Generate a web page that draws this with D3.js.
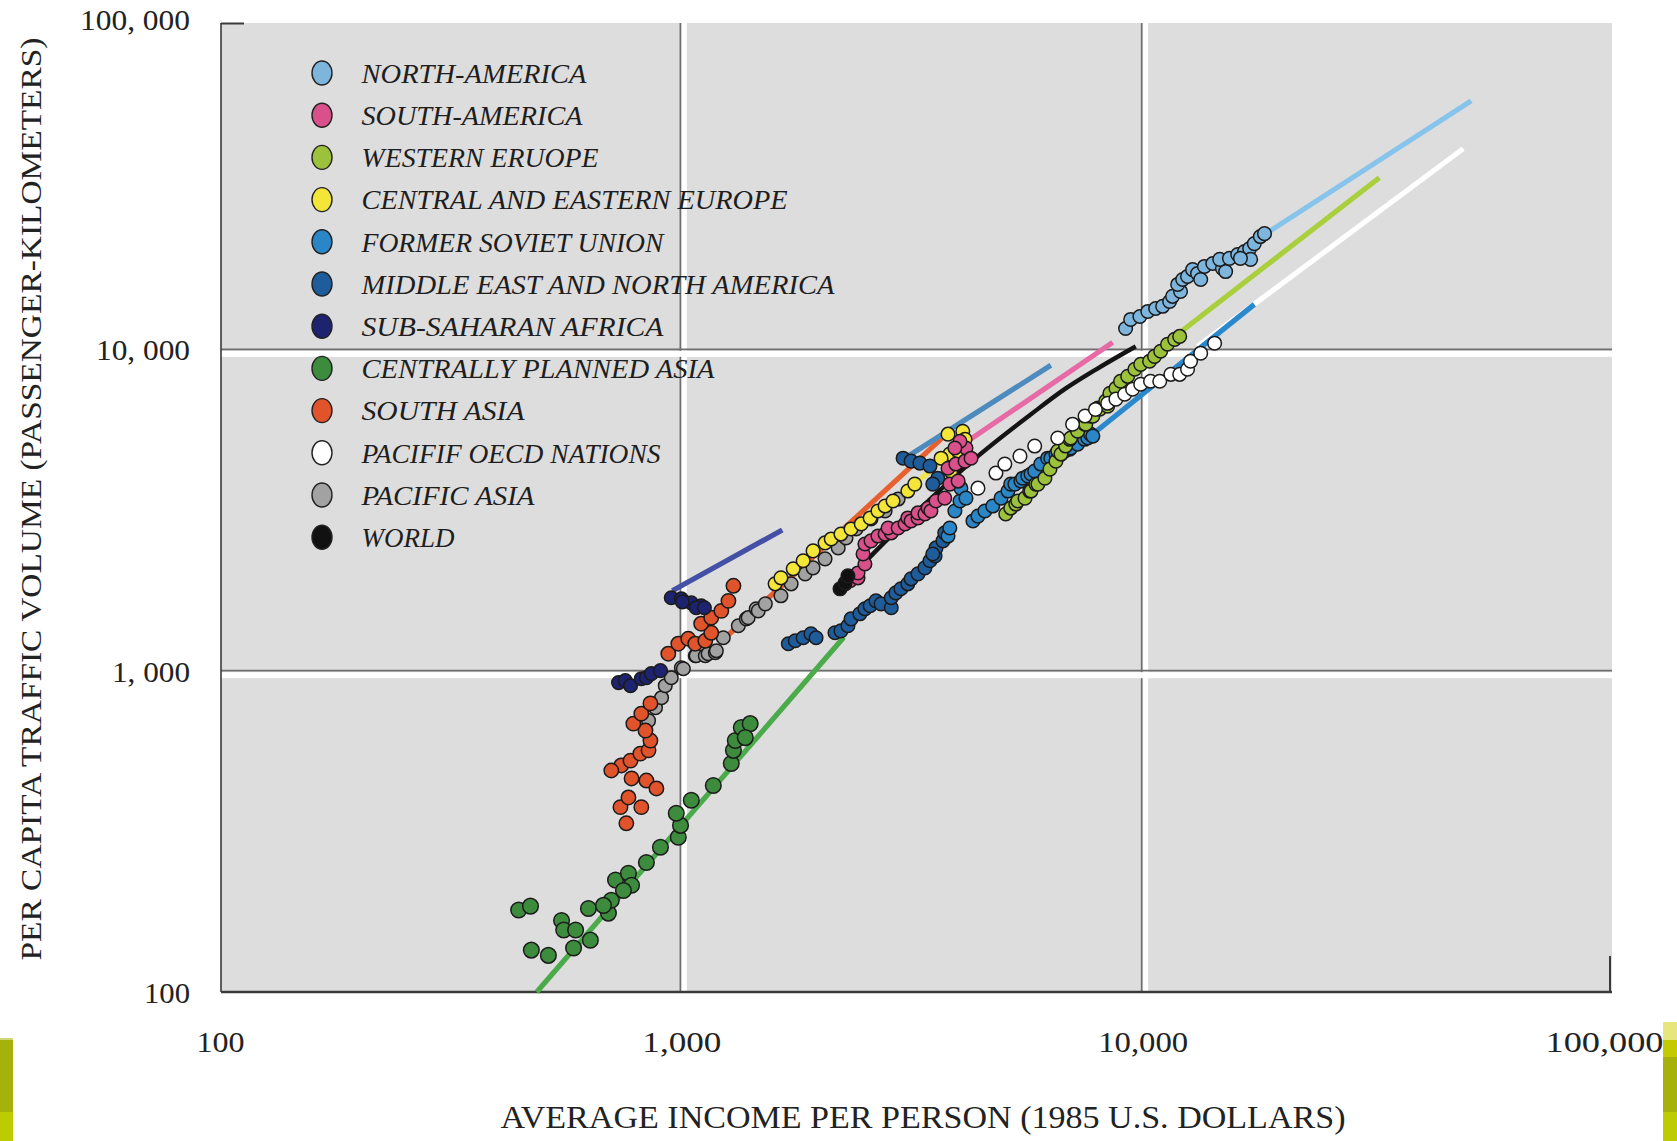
<!DOCTYPE html>
<html>
<head>
<meta charset="utf-8">
<script src="https://cdn.jsdelivr.net/npm/d3@7"></script>
<style>
  html, body { margin: 0; padding: 0; background: #ffffff; }
  svg { display: block; }
</style>
</head>
<body>
<svg id="chart" width="1677" height="1141"></svg>
<script>
// ---------------------------------------------------------------
// Data: per-capita traffic volume (passenger-km) vs. income (1985 US$)
// ---------------------------------------------------------------
const regionNames = [
  "NORTH-AMERICA", "SOUTH-AMERICA", "WESTERN ERUOPE", "CENTRAL AND EASTERN EUROPE",
  "FORMER SOVIET UNION", "MIDDLE EAST AND NORTH AMERICA", "SUB-SAHARAN AFRICA",
  "CENTRALLY PLANNED ASIA", "SOUTH ASIA", "PACIFIF OECD NATIONS", "PACIFIC ASIA", "WORLD"
];

const xTickValues = [100, 1000, 10000, 100000];
const xTickLabels = ["100", "1,000", "10,000", "100,000"];
const yTickValues = [100, 1000, 10000, 100000];
const yTickLabels = ["100", "1, 000", "10, 000", "100, 000"];
const xTitle = "AVERAGE INCOME PER PERSON (1985 U.S. DOLLARS)";
const yTitle = "PER CAPITA TRAFFIC VOLUME (PASSENGER-KILOMETERS)";

// observed [income, traffic] pairs
const northAmerica = [[9183,11610],[9419,12390],[9863,12650],[10260,13120],[10670,13400],[11050,13610],
  [11440,14090],[11610,14620],[12080,15140],[11910,15920],[12210,16490],[12510,16860],[12830,17700],
  [13150,17220],[13360,16490],[13610,18110],[14190,18500],[14890,17860],[15130,17460],[14690,19050],
  [15420,19190],[16070,19730],[16630,20160],[17060,20590],[17460,21330],[17990,22440],[18370,22910],
  [17140,19050],[16290,19190]];
const southAmerica = [[2265,1863],[2322,1905],[2415,1945],[2415,2014],[2500,2148],[2477,2307],[2500,2478],
  [2577,2535],[2668,2624],[2765,2661],[2851,2685],[2806,2780],[2951,2780],[3055,2862],[3097,2987],
  [3148,2924],[3258,2987],[3258,3097],[3373,3073],[3428,3206],[3475,3140],[3565,3373],[3724,3443],
  [3819,3807],[3981,3890],[3785,4266],[3936,4395],[4121,4487],[4140,4932],[4018,5176],[4246,4584],[3917,4932]];
const westernEurope = [[5049,3073],[5176,3206],[5309,3300],[5361,3373],[5559,3443],[5690,3622],[5728,3622],
  [5868,3807],[5929,3807],[6138,3972],[6295,4238],[6486,4487],[6546,4823],[6652,4721],[6808,5000],
  [6950,5248],[6982,5297],[7228,5559],[7482,5848],[7530,5848],[7709,6194],[7798,6194],[7998,6561],
  [8072,6516],[8318,6902],[8397,6653],[8492,7295],[8750,7568],[8954,7955],[9280,8241],[9616,8670],
  [9903,8980],[10350,9183],[10610,9509],[10940,9863],[11320,10370],[11730,10740],[12030,10970]];
const centralEasternEurope = [[1597,1863],[1644,1945],[1748,2075],[1837,2198],[1930,2359],[2049,2498],
  [2113,2570],[2218,2661],[2333,2761],[2455,2862],[2566,2987],[2668,3140],[2765,3253],[2877,3373],
  [3097,3622],[3206,3807],[3785,5445],[4074,5559],[3819,4721],[3981,4823],[3837,4178],[3656,4584],[4121,5248]];
const formerSovietUnion = [[3785,2624],[3819,2780],[3917,3140],[4018,3373],[4036,3698],[4140,3443],
  [4287,2924],[4395,3027],[4550,3140],[4732,3253],[4932,3443],[5105,3622],[5176,3807],[5284,3807],
  [5445,3890],[5495,3972],[5636,4036],[5728,4093],[5834,4178],[6012,4395],[6223,4584],[6324,4584],
  [6486,4721],[6652,4721],[6776,4823],[6950,4887],[6982,4932],[7228,5070],[7482,5248],[7603,5297],
  [7709,5445],[7798,5370]];
const middleEast = [[1706,1213],[1766,1239],[1837,1266],[1910,1303],[1959,1266],[2153,1312],[2218,1330],
  [2297,1380],[2333,1449],[2438,1503],[2500,1558],[2566,1592],[2642,1649],[2710,1614],[2851,1570],
  [2851,1686],[2917,1746],[2992,1799],[3097,1863],[3148,1931],[3258,2001],[3373,2089],[3459,2198],
  [3548,2276],[3565,2410],[3690,2535],[3724,2685],[3508,2307],[3025,4584],[3148,4487],[3289,4426],
  [3459,4333],[3597,3972],[3508,3807]];
const subSaharanAfrica = [[731,918],[756,931],[776,898],[819,944],[840,951],[861,979],[901,1000],
  [951,1686],[1000,1674],[1051,1626],[1104,1592],[1077,1570],[1122,1570],[1005,1637]];
const centrallyPlannedAsia = [[444,180],[471,185],[473,135],[515,130],[550,167],[556,156],[590,156],
  [584,137],[635,145],[629,182],[695,176],[705,193],[720,223],[768,234],[780,215],[840,253],[901,282],
  [985,303],[996,330],[975,360],[1051,395],[1173,439],[1283,514],[1297,565],[1309,606],[1349,665],
  [1410,684],[1376,619],[749,207],[678,186]];
const southAsia = [[760,335],[738,376],[768,403],[819,376],[840,455],[883,430],[780,462],[741,507],
  [705,489],[776,525],[815,552],[849,565],[857,606],[836,651],[787,684],[819,735],[857,791],[937,1129],
  [985,1213],[1035,1257],[1072,1213],[1127,1239],[1161,1312],[1104,1400],[1161,1462],[1221,1535],
  [1265,1649],[1297,1837]];
const pacificOECD = [[4395,3698],[4808,4121],[5026,4395],[5420,4652],[5834,5000],[6546,5297],[7048,5848],
  [7500,6200],[7900,6500],[8397,6792],[8750,6998],[9141,7247],[9509,7516],[9903,7786],[10400,7955],
  [10890,7955],[11510,8360],[12030,8360],[12510,8670],[12700,9183],[13360,9727],[14320,10450]];
const pacificAsia = [[849,699],[879,767],[906,824],[923,898],[951,951],[1000,1021],[1010,1014],
  [1072,1113],[1077,1113],[1127,1113],[1143,1129],[1185,1137],[1191,1153],[1233,1266],[1329,1380],
  [1383,1449],[1396,1462],[1453,1558],[1468,1535],[1521,1614],[1644,1710],[1730,1863],[1855,2001],
  [1930,2089],[2049,2228],[2188,2410],[2275,2588],[2392,2761],[2577,2965],[2765,3140],[2951,3420]];
const world = [[2208,1798],[2265,1876],[2297,1972]];

// projected trajectories [income, traffic]
const northAmericaLine = [[18370,22760],[51520,59300]];
const southAmericaLine = [[3700,4600],[8610,10510]];
const westernEuropeLine = [[11910,11140],[32580,34200]];
const centralEasternEuropeLine = [[3100,3650],[3600,4400]];
const formerSovietUnionLine = [[7800,5450],[17460,13800]];
const middleEastLine = [[3100,4650],[6324,8920]];
const subSaharanAfricaLine = [[956,1772],[1655,2741]];
const centrallyPlannedAsiaLine = [[486,100],[2250,1270]];
const southAsiaLine = [[1245,1266],[3673,5292]];
const pacificOECDLine = [[13150,10210],[49510,42100]];
const worldLine = [[2208,1798],[2668,2393],[3428,3373],[4395,4652],[5728,6281],[6776,7516],[7998,8730],[9660,10210]];

// ---------------------------------------------------------------
// Series styling (legend order)
// ---------------------------------------------------------------
const fills = ["#7db5dd","#d9508b","#9cc23c","#f3e638","#2a86c6","#1f5c9b","#1d236e","#3d8b3d","#e0532b","#ffffff","#a2a2a2","#111111"];
const lineColors = ["#86c4ec","#e76aa6","#a9cf3d","#f4e64a","#2a88cc","#4d8abd","#4450a6","#4bab4b","#e8602f","#ffffff",null,"#141414"];
const pointSets = [northAmerica, southAmerica, westernEurope, centralEasternEurope, formerSovietUnion,
  middleEast, subSaharanAfrica, centrallyPlannedAsia, southAsia, pacificOECD, pacificAsia, world];
const lineSets = [northAmericaLine, southAmericaLine, westernEuropeLine, centralEasternEuropeLine,
  formerSovietUnionLine, middleEastLine, subSaharanAfricaLine, centrallyPlannedAsiaLine, southAsiaLine,
  pacificOECDLine, null, worldLine];
const legendTextWidths = [225, 221, 237, 426, 302, 473, 302, 353, 163, 299, 173, 93];

const series = regionNames.map((name, i) => ({
  name, points: pointSets[i], line: lineSets[i], fill: fills[i], lineColor: lineColors[i]
}));

// ---------------------------------------------------------------
// Layout
// ---------------------------------------------------------------
const svg = d3.select("#chart");
const plot = { left: 221, right: 1612, top: 23, bottom: 992 };

const x = d3.scaleLog().domain([100, 100000]).range([220, 1604]);
const y = d3.scaleLog().domain([100, 100000]).range([992, 28]);

// plot background
svg.append("rect")
  .attr("x", plot.left).attr("y", plot.top)
  .attr("width", plot.right - plot.left).attr("height", plot.bottom - plot.top)
  .attr("fill", "#dddddd");

// embossed grid lines: dark rule with a white band beside it
const grid = svg.append("g");
[1000, 10000].forEach(v => {
  const gx = x(v);
  grid.append("rect").attr("x", gx + 0.5).attr("y", plot.top).attr("width", 5)
    .attr("height", plot.bottom - plot.top).attr("fill", "#ffffff");
  grid.append("line").attr("x1", gx - 1).attr("x2", gx - 1)
    .attr("y1", plot.top).attr("y2", plot.bottom)
    .attr("stroke", "#6e6e6e").attr("stroke-width", 1.6);
});
[1000, 10000].forEach(v => {
  const gy = y(v);
  grid.append("rect").attr("x", plot.left).attr("y", gy + 1.5).attr("width", plot.right - plot.left + 2)
    .attr("height", 6).attr("fill", "#ffffff");
  grid.append("line").attr("x1", plot.left).attr("x2", plot.right)
    .attr("y1", gy).attr("y2", gy)
    .attr("stroke", "#6e6e6e").attr("stroke-width", 1.6);
});

// axis frame
const frame = svg.append("g").attr("stroke", "#3a3a3a").attr("fill", "none");
frame.append("line").attr("x1", plot.left).attr("x2", plot.left)
  .attr("y1", plot.top).attr("y2", plot.bottom).attr("stroke-width", 1.6);
frame.append("line").attr("x1", plot.left).attr("x2", plot.right)
  .attr("y1", plot.bottom).attr("y2", plot.bottom).attr("stroke-width", 2.6);
frame.append("line").attr("x1", plot.left).attr("x2", plot.left + 23)
  .attr("y1", plot.top + 0.5).attr("y2", plot.top + 0.5).attr("stroke-width", 2);
frame.append("line").attr("x1", plot.right - 2).attr("x2", plot.right - 2)
  .attr("y1", plot.bottom - 36).attr("y2", plot.bottom).attr("stroke-width", 2);

// trajectory lines
const lineGen = d3.line().x(d => x(d[0])).y(d => y(d[1])).curve(d3.curveMonotoneX);
const lineOrder = [7, 6, 8, 3, 5, 1, 11, 2, 9, 4, 0];
const lines = svg.append("g").attr("fill", "none").attr("stroke-linecap", "butt");
lineOrder.forEach(i => {
  const s = series[i];
  if (!s.line) return;
  lines.append("path").datum(s.line)
    .attr("d", lineGen)
    .attr("stroke", s.lineColor)
    .attr("stroke-width", i === 11 ? 4.4 : 5.2);
});

// observed points
const pointOrder = [10, 3, 8, 6, 7, 5, 4, 1, 11, 2, 9, 0];
const dots = svg.append("g");
pointOrder.forEach(i => {
  const s = series[i];
  dots.append("g").selectAll("circle").data(s.points).join("circle")
    .attr("cx", d => x(d[0]))
    .attr("cy", d => y(d[1]))
    .attr("r", i === 7 ? 7.8 : (i === 8 ? 7.2 : 6.8))
    .attr("fill", s.fill)
    .attr("stroke", "#1b1b1b")
    .attr("stroke-width", 1.5);
});

// axes (labels only)
const tickFont = "'Liberation Serif', 'DejaVu Serif', serif";
const xTickWidths = { 100: 48, 1000: 79, 10000: 90, 100000: 118 };
const yTickWidths = { 100: 46, 1000: 78, 10000: 94, 100000: 110 };

const xAxis = svg.append("g").attr("transform", `translate(0,${plot.bottom})`)
  .call(d3.axisBottom(x).tickValues(xTickValues)
    .tickFormat(d => xTickLabels[xTickValues.indexOf(d)]).tickSize(0));
xAxis.select(".domain").remove();
xAxis.selectAll("text")
  .attr("y", 49).attr("dy", "0.35em")
  .attr("font-family", tickFont).attr("font-size", 30).attr("fill", "#222")
  .attr("textLength", d => xTickWidths[d]).attr("lengthAdjust", "spacingAndGlyphs");

const yAxis = svg.append("g").attr("transform", `translate(${plot.left - 1},0)`)
  .call(d3.axisLeft(y).tickValues(yTickValues)
    .tickFormat(d => yTickLabels[yTickValues.indexOf(d)]).tickSize(0));
yAxis.select(".domain").remove();
yAxis.selectAll("text")
  .attr("x", -30).attr("dy", d => d === 100000 ? "0.05em" : "0.35em")
  .attr("font-family", tickFont).attr("font-size", 30).attr("fill", "#222")
  .attr("textLength", d => yTickWidths[d]).attr("lengthAdjust", "spacingAndGlyphs");

// axis titles
svg.append("text")
  .attr("x", 923).attr("y", 1117).attr("dy", "0.35em")
  .attr("text-anchor", "middle")
  .attr("font-family", tickFont).attr("font-size", 31).attr("fill", "#222")
  .attr("textLength", 845).attr("lengthAdjust", "spacingAndGlyphs")
  .text(xTitle);

svg.append("text")
  .attr("transform", "translate(30,499) rotate(-90)")
  .attr("dy", "0.35em")
  .attr("text-anchor", "middle")
  .attr("font-family", tickFont).attr("font-size", 30).attr("fill", "#222")
  .attr("textLength", 923).attr("lengthAdjust", "spacingAndGlyphs")
  .text(yTitle);

// legend
const legend = svg.append("g").attr("transform", "translate(322,73)");
const rows = legend.selectAll("g").data(series).join("g")
  .attr("transform", (d, i) => `translate(0,${i * 42.2})`);
rows.append("ellipse")
  .attr("rx", 10).attr("ry", 12)
  .attr("fill", d => d.fill)
  .attr("stroke", "#222").attr("stroke-width", 1.4);
rows.append("text")
  .attr("x", 39.5).attr("dy", "0.36em")
  .attr("font-family", tickFont).attr("font-style", "italic")
  .attr("font-size", 27).attr("fill", "#1e1e1e")
  .attr("textLength", (d, i) => legendTextWidths[i]).attr("lengthAdjust", "spacingAndGlyphs")
  .text(d => d.name);

// page corner accents
const accents = svg.append("g");
accents.append("rect").attr("x", 0).attr("y", 1038).attr("width", 13).attr("height", 74).attr("fill", "#a6b10c");
accents.append("rect").attr("x", 0).attr("y", 1112).attr("width", 13).attr("height", 29).attr("fill", "#bdcc00");
accents.append("rect").attr("x", 0).attr("y", 1038).attr("width", 13).attr("height", 2).attr("fill", "#cfd77a");
accents.append("rect").attr("x", 1663).attr("y", 1022).attr("width", 14).attr("height", 18).attr("fill", "#e6e67c");
accents.append("rect").attr("x", 1663).attr("y", 1040).attr("width", 14).attr("height", 17).attr("fill", "#c4c900");
accents.append("rect").attr("x", 1663).attr("y", 1057).attr("width", 14).attr("height", 55).attr("fill", "#a6b10c");
accents.append("rect").attr("x", 1663).attr("y", 1112).attr("width", 14).attr("height", 29).attr("fill", "#bccc00");
</script>
</body>
</html>
